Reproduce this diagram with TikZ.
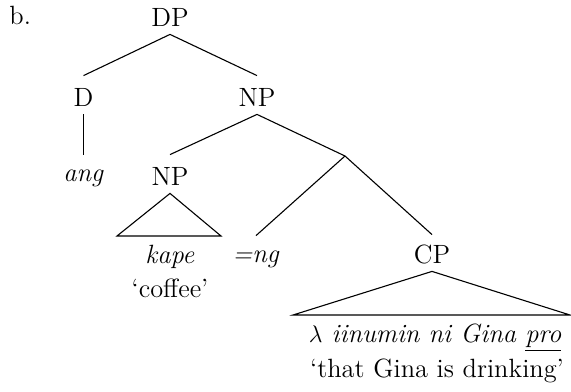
\documentclass[tikz,border=0pt]{standalone}
\begin{document}
\begin{tikzpicture}[x=0.5pt,y=-0.5pt,
  lab/.style={font=\fontsize{13.2}{16}\selectfont, anchor=base, inner sep=1pt, text height=14pt, text depth=3pt},
  edge/.style={line width=0.55pt}]
\useasboundingbox (0,0) rectangle (571,391);
\node[lab, anchor=base west] (b) at (7,25) {b.};
\node[lab] (dp) at (170,26) {DP};
\node[lab] (d) at (83.5,106) {D};
\node[lab] (np1) at (257,106) {NP};
\node[lab, text height=12pt] (ang) at (83.5,181) {\textit{ang}};
\node[lab] (np2) at (170,185) {NP};
\node[lab] (kape) at (170,263) {\textit{kape}};
\node[lab] (coffee) at (170,297) {`coffee'};
\node[lab, text height=12pt] (ng) at (256,262) {\textit{=ng}};
\node[lab, text height=13pt] (cp) at (432,263) {CP};
\node[lab] (lam) at (435,342) {\textit{$\lambda$ iinumin ni Gina \underline{pro}}};
\node[lab] (trans) at (437,377) {`that Gina is drinking'};
\coordinate (br) at (345,156);
\coordinate (t1l) at (117,236);
\coordinate (t1r) at (221,236);
\coordinate (t2l) at (293,315);
\coordinate (t2r) at (570,315);
\draw[edge] (dp.south) -- (d.north);
\draw[edge] (dp.south) -- (np1.north);
\draw[edge] (d.south) -- (ang.north);
\draw[edge] (np1.south) -- (np2.north);
\draw[edge] (np1.south) -- (br);
\draw[edge] (br) -- (ng.north);
\draw[edge] (br) -- (cp.north);
\draw[edge] (np2.south) -- (t1l) -- (t1r) -- cycle;
\draw[edge] (cp.south) -- (t2l) -- (t2r) -- cycle;
\end{tikzpicture}
\end{document}
